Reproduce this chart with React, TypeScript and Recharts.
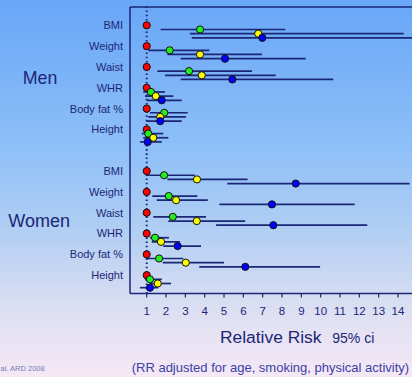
import React from 'react';
import { ScatterChart, Scatter, XAxis, YAxis, ErrorBar, ReferenceLine } from 'recharts';

// Row labels, grouped by sex (men rows 0-5, women rows 7-12)
const categories = ['BMI', 'Weight', 'Waist', 'WHR', 'Body fat %', 'Height'];
const groups = ['Men', 'Women'];
const xTicks = [1, 2, 3, 4, 5, 6, 7, 8, 9, 10, 11, 12, 13, 14];

// Relative risk per quartile; first six entries men, last six women
const q1RR = [1, 1, 1, 1, 1, 1, 1, 1, 1, 1, 1, 1];

const q2RR = [3.76, 2.19, 3.19, 1.22, 1.91, 1.08, 1.9, 2.14, 2.35, 1.43, 1.64, 1.17];
const q2Lo = [1.72, 1.08, 1.55, 0.82, 1.17, 0.74, 1.0, 1.29, 1.34, 1.17, 1.0, 0.91];
const q2Hi = [8.17, 4.24, 6.45, 1.95, 3.12, 1.86, 3.5, 3.62, 4.07, 2.15, 2.89, 1.78];

const q3RR = [6.77, 3.76, 3.85, 1.47, 1.7, 1.34, 3.6, 2.52, 3.59, 1.74, 3.02, 1.57];
const q3Lo = [3.24, 2.07, 1.95, 0.91, 1.08, 0.82, 2.07, 1.52, 2.12, 1.26, 1.83, 1.17];
const q3Hi = [14.3, 6.96, 7.67, 2.38, 3.03, 2.12, 6.22, 4.16, 6.09, 2.72, 5.0, 2.26];

const q4RR = [6.98, 5.05, 5.43, 1.78, 1.7, 1.05, 8.71, 7.48, 7.55, 2.6, 6.1, 1.17];
const q4Lo = [3.33, 2.76, 2.76, 1.0, 1.0, 0.65, 5.17, 4.76, 4.59, 1.86, 3.72, 0.65];
const q4Hi = [16, 9.23, 10.65, 2.81, 2.81, 1.78, 14.6, 11.76, 12.41, 3.81, 9.97, 1.6];

const NAVY = '#1b2676';
const FONT = "Arial, 'Liberation Sans', sans-serif";

const rowTicks = [0, 1, 2, 3, 4, 5, 7, 8, 9, 10, 11, 12];

function buildRows(rr: number[], step: number, lo?: number[], hi?: number[]) {
  return rr.map((v, i) => {
    const base = i < categories.length ? i : i + 1;
    return {
      rr: v,
      row: base + step * 0.2,
      err: lo && hi ? [v - lo[i], hi[i] - v] : [0, 0],
    };
  });
}

const q1Data = buildRows(q1RR, 0);
const q2Data = buildRows(q2RR, 1, q2Lo, q2Hi);
const q3Data = buildRows(q3RR, 2, q3Lo, q3Hi);
const q4Data = buildRows(q4RR, 3, q4Lo, q4Hi);

const dot = (color: string) => (props: any) => (
  <circle cx={props.cx} cy={props.cy} r={3.6} fill={color} stroke="#111" strokeWidth={1} />
);

export default function App() {
  return (
    <div
      style={{
        position: 'fixed',
        left: 0,
        top: 0,
        width: 412,
        height: 377,
        overflow: 'hidden',
        background:
          'linear-gradient(180deg, #68a6f7 0%, #8fc0f8 40%, #b3cff3 62%, #dcdff2 82%, #f6e8f5 100%)',
        fontFamily: FONT,
      }}
    >
      <div style={{ position: 'absolute', left: 0, top: 0 }}>
        <ScatterChart
          width={430}
          height={377}
          margin={{ top: 7, right: 3, bottom: 53.5, left: 0 }}
        >
          <XAxis
            type="number"
            dataKey="rr"
            domain={[0.136, 15.5]}
            allowDataOverflow
            ticks={xTicks}
            height={30}
            tickSize={4}
            tickMargin={9}
            stroke={NAVY}
            axisLine={{ stroke: NAVY, strokeWidth: 1.5 }}
            tickLine={{ stroke: NAVY, strokeWidth: 1.2 }}
            tick={{ fill: NAVY, fontSize: 11.5, fontFamily: FONT }}
          />
          <YAxis
            type="number"
            dataKey="row"
            domain={[-0.88, 12.88]}
            reversed
            allowDataOverflow
            width={130}
            ticks={rowTicks}
            interval={0}
            tickSize={0}
            tickMargin={7}
            tickFormatter={(v: number) => categories[v < 6 ? v : v - 7]}
            axisLine={{ stroke: NAVY, strokeWidth: 1.5 }}
            tickLine={false}
            tick={{ fill: NAVY, fontSize: 11, fontFamily: FONT }}
          />
          <ReferenceLine y={-0.88} stroke={NAVY} strokeWidth={1.5} ifOverflow="visible" />
          <ReferenceLine x={1} stroke={NAVY} strokeWidth={2} strokeDasharray="1.6 2.6" />
          <Scatter data={q1Data} fill="#ff0000" shape={dot('#ff0000')} isAnimationActive={false} />
          <Scatter data={q2Data} fill="#22ee22" shape={dot('#22ee22')} isAnimationActive={false}>
            <ErrorBar dataKey="err" direction="x" width={0} stroke={NAVY} strokeWidth={1.7} />
          </Scatter>
          <Scatter data={q3Data} fill="#ffff00" shape={dot('#ffff00')} isAnimationActive={false}>
            <ErrorBar dataKey="err" direction="x" width={0} stroke={NAVY} strokeWidth={1.7} />
          </Scatter>
          <Scatter data={q4Data} fill="#0000ff" shape={dot('#0000ff')} isAnimationActive={false}>
            <ErrorBar dataKey="err" direction="x" width={0} stroke={NAVY} strokeWidth={1.7} />
          </Scatter>
        </ScatterChart>
      </div>
      <svg
        width={412}
        height={377}
        style={{ position: 'absolute', left: 0, top: 0, pointerEvents: 'none' }}
      >
        <text x={22.7} y={84.4} fontSize={17.8} fill={NAVY} fontFamily={FONT}>
          {groups[0]}
        </text>
        <text x={8.3} y={227.4} fontSize={18} fill={NAVY} fontFamily={FONT}>
          {groups[1]}
        </text>
        <text x={220} y={343.3} fontSize={17.4} fill={NAVY} fontFamily={FONT}>
          Relative Risk
        </text>
        <text x={332.3} y={343.3} fontSize={14} fill={NAVY} fontFamily={FONT}>
          95% ci
        </text>
        <text x={131.7} y={371.8} fontSize={13} fill="#3d3fa6" fontFamily={FONT}>
          (RR adjusted for age, smoking, physical activity)
        </text>
        <text x={0.5} y={370.5} fontSize={7.5} fill="#6f7fb8" fontFamily={FONT}>
          al. ARD 2008
        </text>
      </svg>
    </div>
  );
}
